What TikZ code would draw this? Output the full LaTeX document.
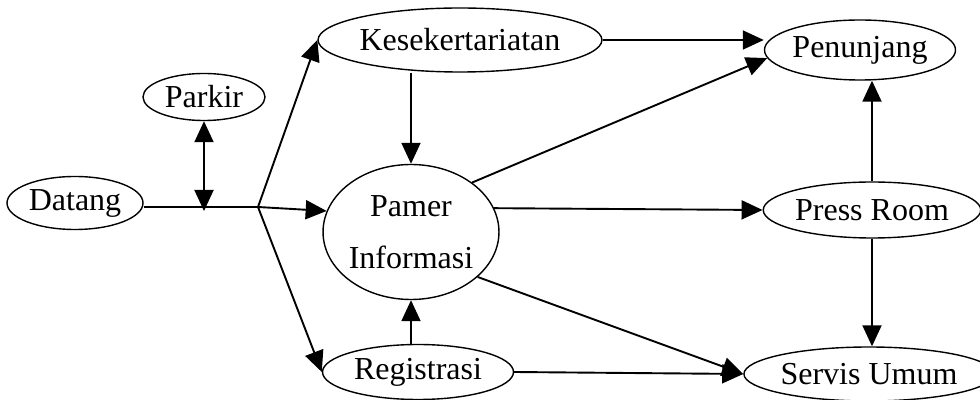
\documentclass[tikz,border=0pt]{standalone}
\usepackage{fontspec}
\setmainfont{Liberation Serif}
\usetikzlibrary{arrows.meta,shapes.geometric}

\begin{document}
\begin{tikzpicture}[x=0.5pt,y=-0.5pt,
  room/.style={draw, ellipse, line width=0.7pt, inner sep=0pt,
               font=\fontsize{16}{26}\selectfont, align=center},
  flow/.style={line width=0.95pt, -{Triangle[length=10.5pt,width=9.5pt]}},
  twoway/.style={line width=0.95pt, {Triangle[length=10.5pt,width=9.5pt]}-{Triangle[length=10.5pt,width=9.5pt]}}]
\useasboundingbox (0,0) rectangle (980,400);
% Ruang
\node[room, minimum width=68pt, minimum height=26.5pt] (datang) at (75,203) {Datang};
\node[room, minimum width=61pt, minimum height=23.5pt] (parkir) at (204,97) {Parkir};
\node[room, minimum width=122.5pt, minimum height=32pt] (kesek) at (460,40) {Kesekertariatan};
\node[room, minimum width=87pt, minimum height=67.5pt] (pamer) at (411,232) {Pamer\\Informasi};
\node[room, minimum width=95.5pt, minimum height=27.5pt] (regis) at (418,372) {Registrasi};
\node[room, minimum width=92.5pt, minimum height=30pt] (penunjang) at (860,50) {Penunjang};
\node[room, minimum width=104.5pt, minimum height=28pt] (press) at (872,210) {Press Room};
\node[room, minimum width=109pt, minimum height=27pt] (servis) at (869,374) {Servis Umum};
% Percabangan
\coordinate (cabang) at (258,207);
\draw[line width=0.95pt] (datang.east |- cabang) -- (cabang);
\draw[twoway] (parkir.south) -- ([yshift=-2pt]parkir.south |- cabang);
\draw[flow] (cabang) -- (kesek.west);
\draw[flow] (cabang) -- (pamer.166);
\draw[flow] (cabang) -- (regis.west);
% Alur
\draw[flow] (pamer.north |- kesek.south) -- (pamer.north);
\draw[flow] (pamer.south |- regis.north) -- (pamer.south);
\draw[flow] (kesek.east) -- (kesek.east -| penunjang.west);
\draw[flow] (pamer.39) -- (penunjang.185);
\draw[flow] (pamer.16) -- (press.west);
\draw[flow] (pamer.-34) -- (servis.west);
\draw[flow] (regis.east) -- (servis.west);
\draw[flow] (press.north) -- (press.north |- penunjang.south);
\draw[flow] (press.south) -- (press.south |- servis.north);
\end{tikzpicture}
\end{document}
